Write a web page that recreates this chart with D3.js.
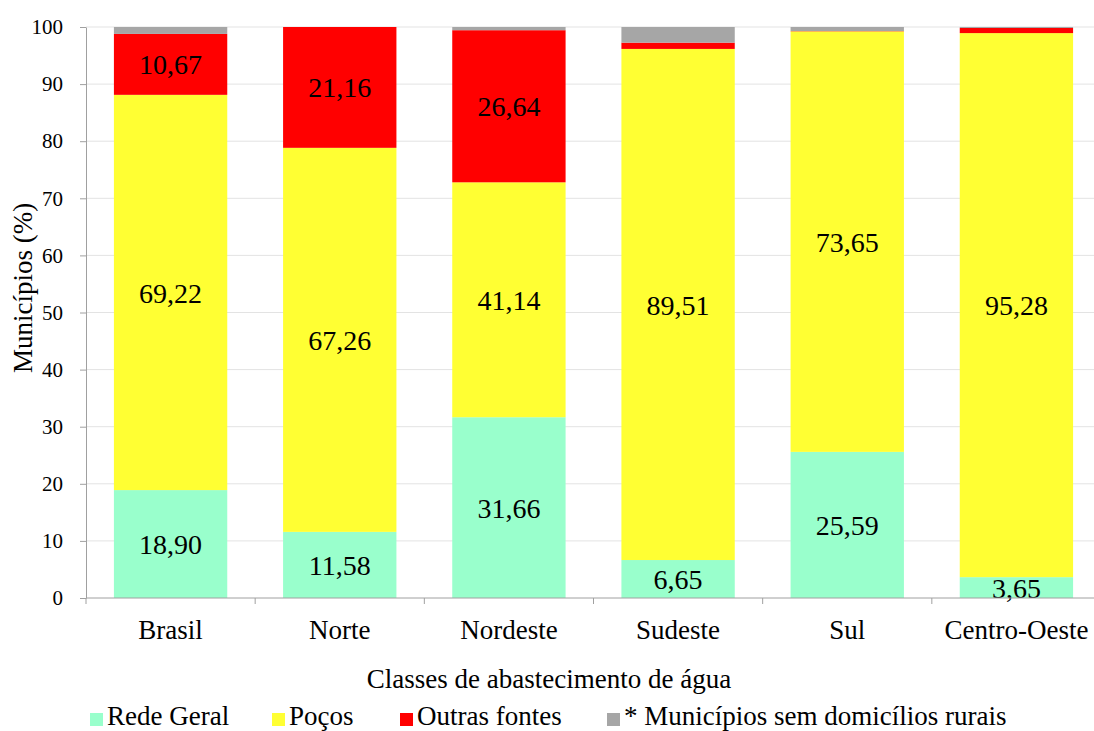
<!DOCTYPE html>
<html>
<head>
<meta charset="utf-8">
<script src="https://cdn.jsdelivr.net/npm/d3@7"></script>
<style>
  body { margin: 0; background: #fff; font-family: 'Liberation Serif'; }
</style>
</head>
<body>
<div class="chart"></div>
<script>
// Data.
const regions = ['Brasil', 'Norte', 'Nordeste', 'Sudeste', 'Sul', 'Centro-Oeste'];
const redeGeral = [18.90, 11.58, 31.66, 6.65, 25.59, 3.65];
const pocos = [69.22, 67.26, 41.14, 89.51, 73.65, 95.28];
const outrasFontes = [10.67, 21.16, 26.64, 1.10, 0.05, 0.90];
const semRurais = [1.21, 0.00, 0.56, 2.74, 0.71, 0.17];
const seriesNames = ['Rede Geral', 'Poços', 'Outras fontes', '* Municípios sem domicílios rurais'];
const seriesColors = ['#99ffcc', '#ffff33', '#ff0000', '#a6a6a6'];
const yTicks = [0, 10, 20, 30, 40, 50, 60, 70, 80, 90, 100];

const seriesValues = [redeGeral, pocos, outrasFontes, semRurais];
const keys = ['rede', 'pocos', 'outras', 'sem'];
const table = regions.map((r, i) => {
  const row = { region: r };
  keys.forEach((k, j) => { row[k] = seriesValues[j][i]; });
  return row;
});

const FONT = 'Liberation Serif';

function draw() {
  // Dimensions.
  const W = 1094, H = 731;
  const margin = { top: 27, right: -7, bottom: 133, left: 86 };
  const width = W - margin.left - margin.right;
  const height = H - margin.top - margin.bottom;

  const xScale = d3.scaleBand()
    .domain(regions)
    .range([0, width])
    .paddingInner(0.33)
    .paddingOuter(0.165);

  const yScale = d3.scaleLinear().domain([0, 100]).range([height, 0]);

  const svg = d3.select('.chart').append('svg')
    .attr('width', W)
    .attr('height', H)
    .attr('font-family', FONT);

  const g = svg.append('g').attr('transform', `translate(${margin.left},${margin.top})`);

  // Grid lines.
  g.append('g')
    .selectAll('line')
    .data(yTicks.filter(d => d > 0))
    .enter()
    .append('line')
    .attr('x1', 0)
    .attr('x2', width)
    .attr('y1', d => yScale(d))
    .attr('y2', d => yScale(d))
    .style('stroke', '#e3e3e3')
    .style('stroke-width', 1);

  // Stacked bars.
  const stack = d3.stack().keys(keys)(table);

  const layers = g.append('g')
    .selectAll('g')
    .data(stack)
    .enter()
    .append('g')
    .style('fill', (d, i) => seriesColors[i]);

  layers.selectAll('rect')
    .data(d => d)
    .enter()
    .append('rect')
    .attr('x', d => xScale(d.data.region))
    .attr('width', xScale.bandwidth())
    .attr('y', d => yScale(d[1]))
    .attr('height', d => yScale(d[0]) - yScale(d[1]));

  // Value labels (only segments large enough).
  const fmt = v => d3.format('.2f')(v).replace('.', ',');
  stack.slice(0, 3).forEach(layer => {
    g.append('g')
      .selectAll('text')
      .data(layer.filter(d => (d[1] - d[0]) >= 3))
      .enter()
      .append('text')
      .attr('x', d => xScale(d.data.region) + xScale.bandwidth() / 2)
      .attr('y', d => yScale((d[0] + d[1]) / 2))
      .attr('dy', '0.36em')
      .attr('text-anchor', 'middle')
      .attr('font-family', FONT)
      .attr('font-size', 28)
      .text(d => fmt(d[1] - d[0]));
  });

  // Y axis.
  const yAxis = d3.axisLeft(yScale)
    .tickValues(yTicks)
    .tickSizeInner(6)
    .tickSizeOuter(0)
    .tickPadding(17);

  const yAxisDraw = g.append('g')
    .call(yAxis)
    .attr('font-family', FONT)
    .attr('font-size', 21);
  yAxisDraw.select('.domain').style('stroke', '#a0a0a0');
  yAxisDraw.selectAll('.tick line').style('stroke', '#a0a0a0');

  // X axis: ticks at category boundaries.
  g.append('line')
    .attr('x1', 0).attr('x2', width)
    .attr('y1', height).attr('y2', height)
    .style('stroke', '#a0a0a0');

  const gap = (xScale.step() - xScale.bandwidth()) / 2;
  g.append('g')
    .selectAll('line')
    .data(regions)
    .enter()
    .append('line')
    .attr('x1', d => xScale(d) - gap)
    .attr('x2', d => xScale(d) - gap)
    .attr('y1', height)
    .attr('y2', height + 6)
    .style('stroke', '#a0a0a0');

  g.append('g')
    .selectAll('text')
    .data(regions)
    .enter()
    .append('text')
    .attr('x', d => xScale(d) + xScale.bandwidth() / 2)
    .attr('y', height + 41)
    .attr('text-anchor', 'middle')
    .attr('font-family', FONT)
    .attr('font-size', 27)
    .text(d => d);

  // Axis titles.
  svg.append('text')
    .attr('x', 549)
    .attr('y', 688)
    .attr('text-anchor', 'middle')
    .attr('font-family', FONT)
    .attr('font-size', 27)
    .text('Classes de abastecimento de água');

  svg.append('text')
    .attr('transform', 'translate(32, 288) rotate(-90)')
    .attr('text-anchor', 'middle')
    .attr('font-family', FONT)
    .attr('font-size', 27)
    .text('Municípios (%)');

  // Legend.
  const legendX = [90, 272, 400, 607];
  const legend = svg.append('g')
    .selectAll('g')
    .data(seriesNames)
    .enter()
    .append('g')
    .attr('transform', (d, i) => `translate(${legendX[i]}, 725)`);

  legend.append('rect')
    .attr('x', 0)
    .attr('y', -12)
    .attr('width', 13)
    .attr('height', 13)
    .style('fill', (d, i) => seriesColors[i]);

  legend.append('text')
    .attr('x', 17)
    .attr('font-family', FONT)
    .attr('font-size', 27)
    .text(d => d);
}

if (document.fonts && document.fonts.load) {
  document.fonts.load('27px "Liberation Serif"').then(draw, draw);
} else {
  draw();
}
</script>
</body>
</html>
